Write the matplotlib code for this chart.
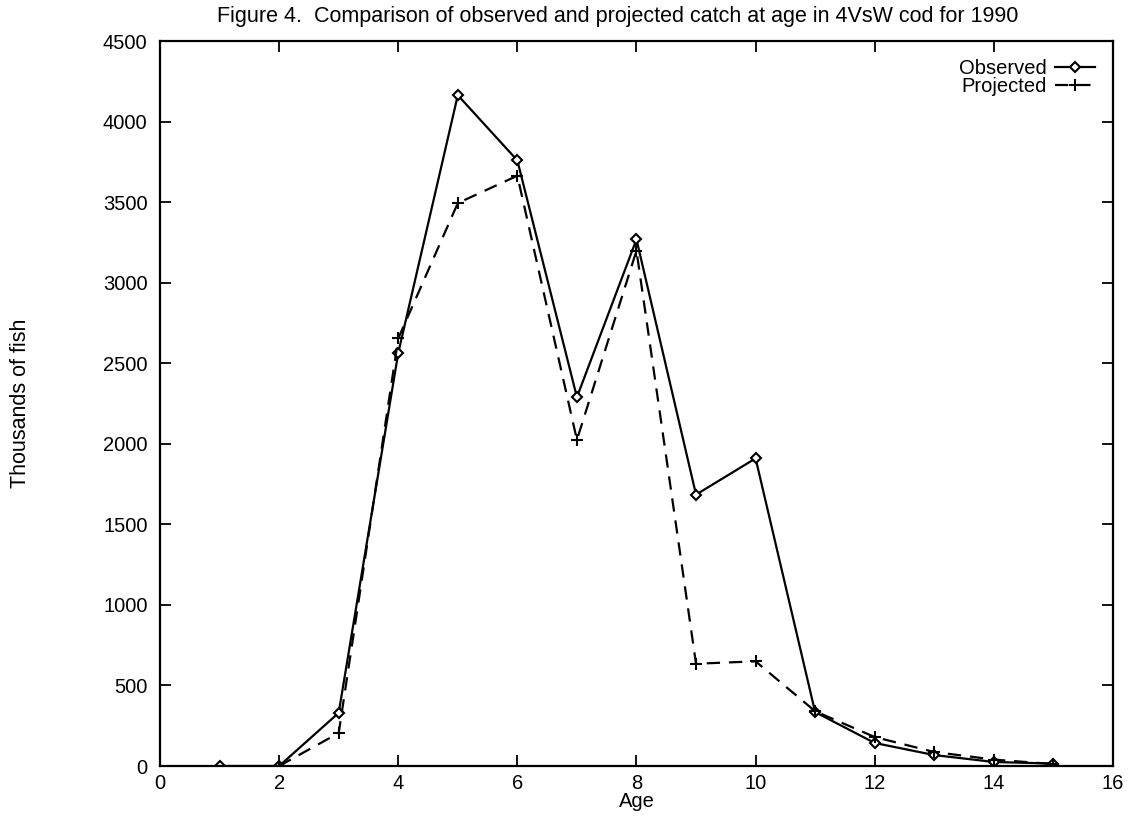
import matplotlib
matplotlib.use("Agg")
import matplotlib.pyplot as plt

plt.rcParams["font.family"] = ["Liberation Sans", "DejaVu Sans"]

# Catch at age, thousands of fish
obs_age = [1, 2, 3, 4, 5, 6, 7, 8, 9, 10, 11, 12, 13, 14, 15]
obs_catch = [0, 0, 330, 2565, 4165, 3760, 2290, 3270, 1685, 1910, 335, 143, 68, 25, 15]
proj_age = [2, 3, 4, 5, 6, 7, 8, 9, 10, 11, 12, 13, 14, 15]
proj_catch = [0, 205, 2655, 3495, 3665, 2025, 3200, 635, 650, 340, 180, 87, 40, 12]

x_ticks = list(range(0, 17, 2))
y_ticks = list(range(0, 4501, 500))

fs = 14.5

fig = plt.figure(figsize=(11.31, 8.25), dpi=100)
ax = fig.add_axes([0.1415, 0.0715, 0.8425, 0.8785])

ax.plot(obs_age, obs_catch, color="black", lw=1.6, marker="D", ms=5.5,
        mfc="white", mec="black", mew=1.5, label="Observed")
ax.plot(proj_age, proj_catch, color="black", lw=1.6, dashes=(6, 4),
        marker="+", ms=9, mew=1.5, label="Projected")

ax.set_xlim(0, 16)
ax.set_ylim(0, 4500)
ax.set_xticks(x_ticks)
ax.set_yticks(y_ticks)
ax.tick_params(direction="in", length=8, width=1.3, top=True, right=True,
               labelsize=fs, pad=6)
ax.tick_params(axis="y", pad=9)
for s in ax.spines.values():
    s.set_linewidth(1.6)

ax.set_xlabel("Age", fontsize=fs, labelpad=-1)
ax.set_ylabel("Thousands of fish", fontsize=15.5, labelpad=52)
fig.text(0.546, 0.993, "Figure 4.  Comparison of observed and projected catch at age in 4VsW cod for 1990",
         ha="center", va="top", fontsize=15.5)

ax.legend(loc="upper right", frameon=False, markerfirst=False, fontsize=fs,
          handlelength=2.0, handletextpad=0.4, labelspacing=-0.05,
          borderaxespad=0.5)

fig.savefig("out.png", dpi=100)
